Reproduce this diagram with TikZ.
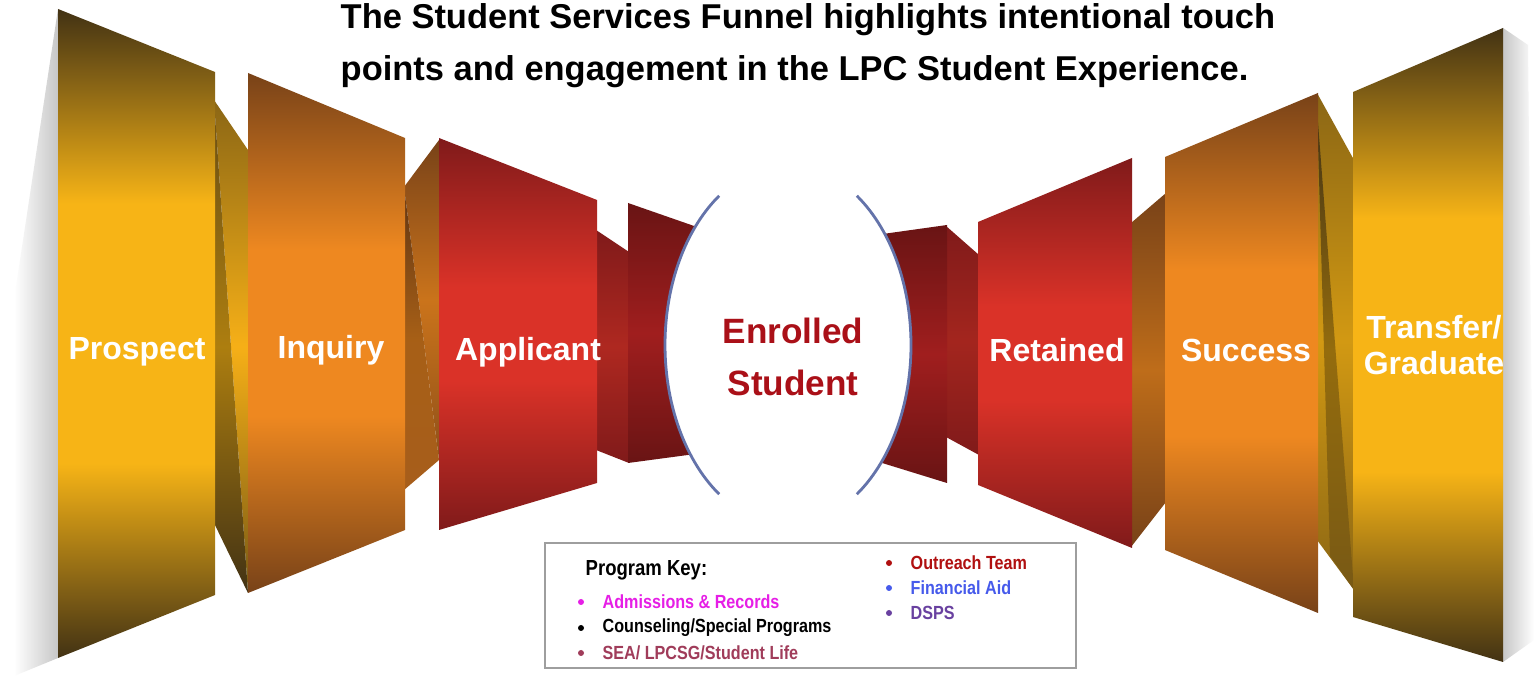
\documentclass[tikz,border=0pt]{standalone}
\usepackage{fontspec}
\setmainfont{Liberation Sans}
\newfontfamily\keyfont{Liberation Sans}[FakeStretch=0.85]
\usepackage{tikz}
\usetikzlibrary{positioning}

\definecolor{golddk}{RGB}{66,50,20}
\definecolor{goldmd}{RGB}{247,180,22}
\definecolor{orngdk}{RGB}{120,66,24}
\definecolor{orngmd}{RGB}{238,136,32}
\definecolor{reddk}{RGB}{128,26,26}
\definecolor{redmd}{RGB}{218,50,40}
\definecolor{neckdk}{RGB}{105,20,20}
\definecolor{neckmd}{RGB}{160,30,30}
\definecolor{enrollred}{RGB}{170,16,24}
\definecolor{arcblue}{RGB}{100,115,170}
\definecolor{keypink}{RGB}{230,30,230}
\definecolor{keyrose}{RGB}{160,60,90}
\definecolor{keyred}{RGB}{176,16,16}
\definecolor{keyblue}{RGB}{70,90,235}
\definecolor{keypurple}{RGB}{105,65,160}

\pgfdeclareverticalshading{goldpanel}{100bp}{color(0bp)=(golddk); color(25bp)=(golddk); color(40bp)=(goldmd); color(60bp)=(goldmd); color(75bp)=(golddk); color(100bp)=(golddk)}
\pgfdeclareverticalshading{orngpanel}{100bp}{color(0bp)=(orngdk); color(25bp)=(orngdk); color(42bp)=(orngmd); color(58bp)=(orngmd); color(75bp)=(orngdk); color(100bp)=(orngdk)}
\pgfdeclareverticalshading{redpanel}{100bp}{color(0bp)=(reddk); color(25bp)=(reddk); color(44bp)=(redmd); color(56bp)=(redmd); color(75bp)=(reddk); color(100bp)=(reddk)}
\pgfdeclareverticalshading{neckpanel}{100bp}{color(0bp)=(neckdk); color(25bp)=(neckdk); color(50bp)=(neckmd); color(75bp)=(neckdk); color(100bp)=(neckdk)}

\begin{document}
\begin{tikzpicture}[x=0.01cm, y=-0.01cm]
    \tikzset{every node/.style={inner sep=0pt},
            stage/.style={text=white, align=center, font=\fontsize{9.1}{10.2}\selectfont\bfseries},
            keyitem/.style={anchor=west, font=\keyfont\fontsize{5.4}{6}\selectfont\bfseries},
            arcline/.style={arcblue, line width=0.8pt}}
    \useasboundingbox (0,0) rectangle (1534,680);
    \fill[white] (0,0) rectangle (1534,680);

    \shade[left color=white, right color=black!22] (14,300) -- (58,9) -- (58,658) -- (14,676) -- cycle;
    \shade[left color=black!22, right color=white] (1503,28) -- (1528,45) -- (1534,640) -- (1503,662) -- cycle;

    \shade[top color=golddk!60!goldmd, bottom color=golddk!70!goldmd, middle color=goldmd!90!orngmd] (214,100) -- (248,150) -- (248,593) -- cycle;
    \shade[top color=golddk!80!goldmd, bottom color=golddk, middle color=goldmd!70!black] (214,100) -- (248,593) -- (214,523) -- cycle;
    \shade[top color=orngdk, bottom color=orngdk!80!orngmd, middle color=orngmd!85!black] (404,187) -- (439,140) -- (439,460) -- cycle;
    \shade[top color=orngdk!80!black, bottom color=orngdk!60!orngmd, middle color=orngmd!70!black] (404,187) -- (439,460) -- (404,490) -- cycle;
    \shade[top color=reddk, bottom color=reddk, middle color=redmd!80!black] (596,230) -- (629,252) -- (629,463) -- (596,450) -- cycle;
    \shade[top color=reddk, bottom color=reddk, middle color=redmd!75!black] (946,226) -- (979,255) -- (979,455) -- (946,437) -- cycle;
    \shade[top color=orngdk, bottom color=orngdk, middle color=orngmd!80!black] (1131,223) -- (1166,193) -- (1166,502) -- (1131,547) -- cycle;
    \shade[top color=golddk!60!goldmd, bottom color=golddk!60!goldmd, middle color=goldmd!85!black] (1317,93) -- (1354,160) -- (1354,590) -- (1317,540) -- cycle;
    \shade[top color=golddk, bottom color=golddk!70!goldmd, middle color=goldmd!60!black] (1317,110) -- (1354,590) -- (1330,556) -- cycle;

    \shade[shading=goldpanel] (58,9) -- (215,72) -- (215,595) -- (58,658) -- cycle;
    \shade[shading=orngpanel] (248,73) -- (405,138) -- (405,530) -- (248,593) -- cycle;
    \shade[shading=redpanel] (439,138) -- (597,200) -- (597,483) -- (439,530) -- cycle;
    \shade[shading=neckpanel] (628,203) -- (740,242) -- (740,448) -- (628,463) -- cycle;
    \shade[shading=neckpanel] (840,240) -- (947,225) -- (947,483) -- (840,450) -- cycle;
    \shade[shading=redpanel] (978,222) -- (1132,158) -- (1132,548) -- (978,485) -- cycle;
    \shade[shading=orngpanel] (1165,157) -- (1318,93) -- (1318,613) -- (1165,550) -- cycle;
    \shade[shading=goldpanel] (1353,92) -- (1503,28) -- (1503,662) -- (1353,617) -- cycle;

    \fill[white] (788,345) ellipse [x radius=123, y radius=180];
    \draw[arcline] (788,345) ++(124:123 and 180) arc [start angle=124, end angle=236, x radius=123, y radius=180];
    \draw[arcline] (788,345) ++(-56:123 and 180) arc [start angle=-56, end angle=56, x radius=123, y radius=180];

    \node[anchor=north west, align=left, font=\fontsize{9.8}{14.6}\selectfont\bfseries] (title) at (340,3)
        {The Student Services Funnel highlights intentional touch\\points and engagement in the LPC Student Experience.};

    \node[stage] (prospect) at (137,352) {Prospect};
    \node[stage] (inquiry) at (331,350) {Inquiry};
    \node[stage] (applicant) at (528,352) {Applicant};
    \node[stage, text=enrollred, font=\fontsize{10}{15}\selectfont\bfseries] (enrolled) at (793,357) {Enrolled\\Student};
    \node[stage] (retained) at (1057,350) {Retained};
    \node[stage] (success) at (1246,350) {Success};
    \node[stage] (transfer) at (1434,345) {Transfer/\\Graduate};

    \draw[black!38, line width=0.4pt, fill=white] (545,543) rectangle (1076,668);
    \node[keyitem, font=\keyfont\fontsize{6.2}{7}\selectfont\bfseries] (key) at (585,570) {Program Key:};
    \node[keyitem, text=keypink] (admit) at (602,602) {Admissions \& Records};
    \node[keyitem] (counsel) at (602,628) {Counseling/Special Programs};
    \node[keyitem, text=keyrose] (sea) at (602,653) {SEA/ LPCSG/Student Life};
    \node[keyitem, text=keyred] (outreach) at (910,563) {Outreach Team};
    \node[keyitem, text=keyblue] (finaid) at (910,588) {Financial Aid};
    \node[keyitem, text=keypurple] (dsps) at (910,613) {DSPS};
    \fill[keypink] (admit.west) ++(-21,0) circle [radius=3];
    \fill[black] (counsel.west) ++(-21,0) circle [radius=3];
    \fill[keyrose] (sea.west) ++(-21,0) circle [radius=3];
    \fill[keyred] (outreach.west) ++(-21,0) circle [radius=3];
    \fill[keyblue] (finaid.west) ++(-21,0) circle [radius=3];
    \fill[keypurple] (dsps.west) ++(-21,0) circle [radius=3];
\end{tikzpicture}
\end{document}
